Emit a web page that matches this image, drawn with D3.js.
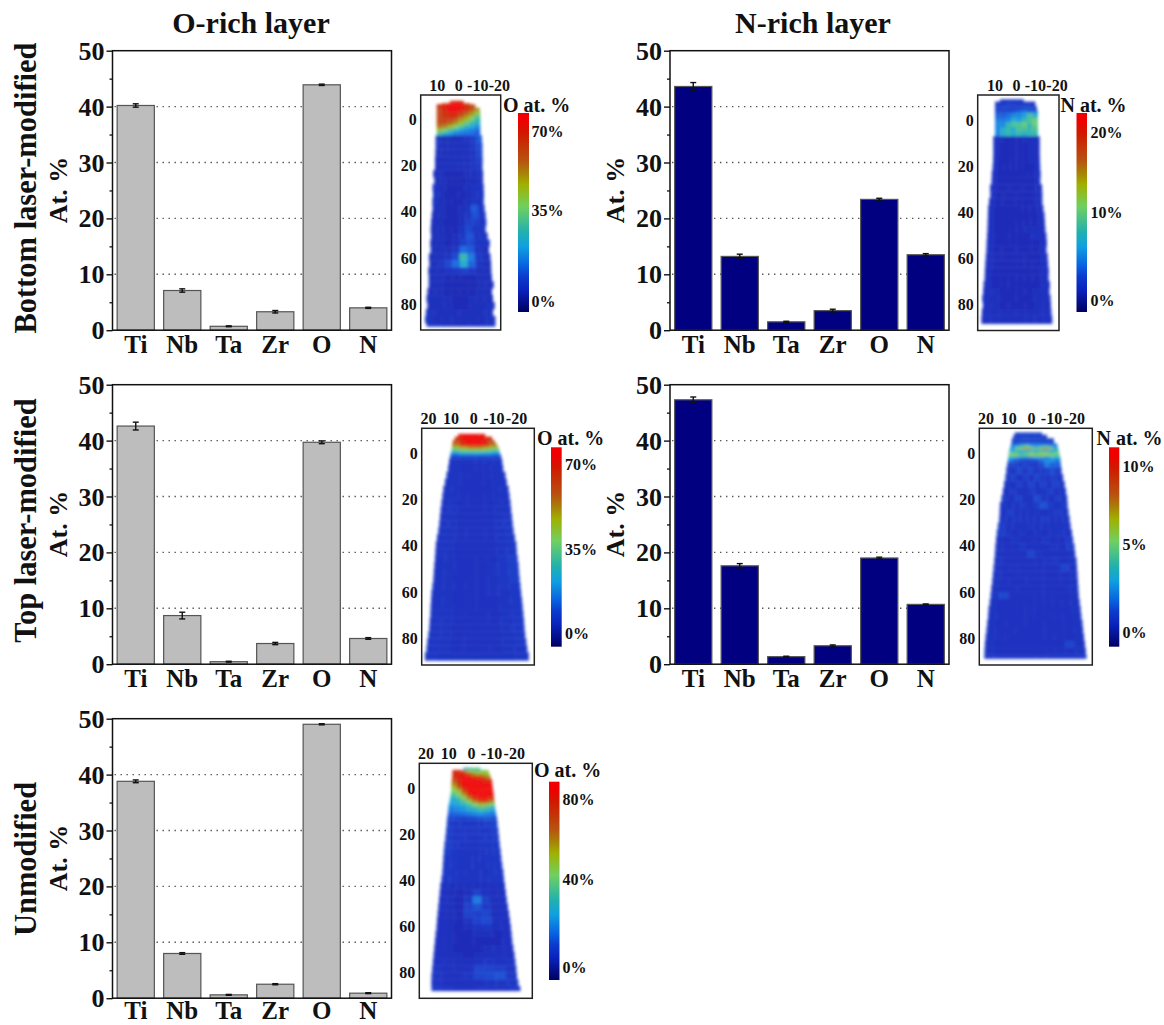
<!DOCTYPE html>
<html>
<head>
<meta charset="utf-8">
<script src="https://cdn.jsdelivr.net/npm/d3@7"></script>
<style>
  html, body { margin: 0; background: #fff; }
  svg { display: block; }
  text { font-family: "Liberation Serif", serif; font-weight: bold; fill: #111; }
</style>
</head>
<body>
<svg id="fig" width="1164" height="1025"></svg>
<script>
// ================= DATA: bars =================
const categories = ["Ti", "Nb", "Ta", "Zr", "O", "N"];
const yTicksMajor = [0, 10, 20, 30, 40, 50];
const yTicksMinor = [5, 15, 25, 35, 45];
const yGrid = [10, 20, 30, 40];

const oBottomVals = [40.2, 7.1, 0.7, 3.3, 43.9, 4.0];
const oBottomErr = [0.3, 0.3, 0.08, 0.22, 0.12, 0.1];
const nBottomVals = [43.6, 13.2, 1.5, 3.5, 23.4, 13.5];
const nBottomErr = [0.7, 0.4, 0.1, 0.25, 0.2, 0.2];
const oTopVals = [42.6, 8.7, 0.45, 3.7, 39.7, 4.6];
const oTopErr = [0.7, 0.6, 0.08, 0.2, 0.25, 0.15];
const nTopVals = [47.3, 17.6, 1.35, 3.3, 19.0, 10.7];
const nTopErr = [0.5, 0.4, 0.08, 0.15, 0.15, 0.08];
const oUnmodVals = [38.8, 8.0, 0.6, 2.5, 49.0, 0.9];
const oUnmodErr = [0.25, 0.15, 0.08, 0.1, 0.1, 0.08];

// ================= DATA: colour bar =================
const rampStops = [0, 0.11, 0.18, 0.23, 0.33, 0.40, 0.53, 0.64, 0.70, 0.765, 0.90, 0.96, 1];
const rampColors = ["#000060", "#0a22bc", "#0c3ccc", "#0860e0", "#10a0e0", "#20b0b0", "#70d060", "#a0b000", "#a88008", "#b85010", "#d01800", "#f00000", "#f00000"];

// ================= DATA: reconstructions (depth nm, x edges nm, at.% cells) =================
const m1Depth = [-8,-7,-6.5,-5,-3.5,-2,-0.5,1,2.5,4,5.5,7,10,13,16,19,22,25,28,31,34,37,40,43,46,49,52,55,58,61,64,67,70,73,76,79,82,85,88,89.5];
const m1Left = [3.9,7.7,10,10,10,10,10,10,10,10,10,10.5,10.5,10.6,10.8,10.8,11.6,11.1,11.9,11.7,12,11.9,12.3,12.6,12.8,12.6,13,12.8,13.6,13.4,13.9,13.7,13.7,14.3,14.7,14.3,15,15.4,14.7];
const m1Right = [-2.3,-5.4,-7.7,-9.7,-10,-10,-10,-10,-10,-10,-10,-10.8,-11,-11,-11.1,-11,-11.3,-11.3,-11.6,-11.7,-11.6,-12,-12.5,-12.8,-12.5,-13.4,-14.4,-14,-14.7,-15,-15.1,-15.4,-16.2,-15.4,-15.9,-16.7,-15.9,-17,-17];
const m1Vals = [
  [66,70,70,66],[62,70,74,75,72,58],
  [68,72,75,75,75,72,66,60],[62,70,74,75,74,70,62,52],[62,68,72,72,66,60,52,42],[62,66,68,66,58,50,44,32],
  [62,64,62,58,50,45,35,27],[60,60,56,50,42,34,28,24],[54,52,46,38,32,26,22,18],[42,36,30,26,20,18,16,14],[30,24,20,16,15,14,14,12],
  [5,4,4,4,4,5,7,12],[5,4,4,4,4,4,6,10],[4,4,4,4,4,4,5,9],[4,4,4,4,4,4,5,8],[4,4,4,4,4,4,5,6],
  [4,4,3.5,3.5,3.5,4,4,5],[4,4,3.5,3.5,3.5,4,4,5],[5,4,3.5,3.5,3.5,4,5,5],[5,4,3.5,3.5,3.5,4,5,5],[5,4,3.5,3.5,3.5,4,6,5],
  [4,4,3.5,3.5,4,5,12,6],[4,4,3.5,3.5,4,6,11,6],[4,4,3.5,3.5,4,8,8,5],[4,4,3.5,3.5,5,10,6,5],[4,4,3.5,4,6,11,6,5],
  [4,4,3.5,4,8,10,5,5],[4,4,4,6,14,12,5,4],[4,4,5,10,28,16,6,4],[4,6,10,14,24,13,5,4],[4,4,5,6,8,6,4,4],
  [4,4,3.5,3.5,3.5,3.5,4,4],[4,4,3.5,3.5,3.5,3.5,4,4],[4,4,3.5,3.5,3.5,3.5,4,4],[4,4,4,3.5,3.5,4,4,4],[4,4,4,3.5,3.5,4,4,5],
  [5,4,4,4,4,4,4,5],[5,4,4,4,4,4,4,5],[5,5,4,4,4,4,5,5]
];

const m2Depth = [-9,-8,-6,-4,-3,-1,1,3,5,7,10,13,16,19,22,25,28,31,34,37,40,43,46,49,52,55,58,61,64,67,70,73,76,79,82,85,88.5];
const m2Left = [7.4,9.7,9.7,9.7,9.7,9.7,9.7,9.7,9.7,10.5,10.5,10.5,10.6,10.8,11.2,11.3,12,11.9,12.5,12.9,13,13.1,13.2,13.4,13.6,13.7,14,14.2,14.4,14.5,15,15.2,15.6,15.3,15.8,16];
const m2Right = [-3.4,-8.8,-9.5,-10,-10,-10,-10,-10,-10,-10.8,-10.8,-10.8,-10.9,-11,-11.2,-11.1,-11.9,-12,-12,-12.5,-13,-13.2,-13.4,-13.9,-14.1,-13.9,-14.5,-14.7,-15,-14.9,-15.5,-15.3,-15.8,-16,-16.2,-16.6];
const m2Vals = [
  [1.6,1.8,1.8,1.6],[1.8,2,2.2,2,2,1.8],[2.2,2.4,2.4,2.4,2.6,2.8,2.8,2.4],[2.8,2.8,3,3,4,5,4,4],
  [3.5,3.5,4,5,5,6,9,7],[4.5,4.5,5,7,6,8,9,10],[5,5,8,9,9,10,8,10],[5,7,8,7,9,9,8,9],[5,7,8,7,8,7,8,8],
  [1.2,1.1,1,1,1,1.1,1.1,1.2],[1.2,1,1,1,1,1,1.1,1.2],[1.2,1,1,1,1,1,1.1,1.2],[1.2,1,1,1,1,1,1.1,1.2],[1.2,1,1,1,1,1,1,1.2],
  [1.2,1,1,1,1,1,1,1.2],[1.2,1,1,1,1,1,1,1.2],[1.2,1,1,1,1,1,1,1.2],[1.2,1,1,1,1,1,1,1.2],[1.2,1,1,1,1,1,1,1.2],
  [1.2,1,1,1,1,1,1,1.2],[1.2,1,1,1,1,1,1,1.2],[1.2,1,1,1,1,1,1,1.2],[1.2,1,1,1,1,1.1,1.1,1.2],[1.2,1,1,1,1,1,1.3,1.2],
  [1.2,1,1,1,1,1,1,1.2],[1.2,1,1,1,1,1,1,1.2],[1.2,1,1,1,1,1,1,1.2],[1.2,1,1,1,1,1,1,1.2],[1.2,1,1,1,1,1,1,1.2],
  [1.2,1,1,1,1,1,1,1.2],[1.2,1,1,1,1,1,1,1.2],[1.2,1.1,1,1,1,1,1.1,1.2],[1.2,1.1,1,1,1,1,1.1,1.2],[1.2,1.1,1,1,1,1,1.1,1.2],
  [1.3,1.1,1.1,1.1,1.1,1.1,1.1,1.3],[1.3,1.2,1.1,1.1,1.1,1.1,1.2,1.3]
];

const m3Depth = [-8.4,-7.2,-5.8,-4.3,-3,-2,-1,0,1,2.5,5,8,11,14,17,20,23,26,29,32,35,38,41,44,47,50,53,56,59,62,65,68,71,74,77,80,83,86,89.5];
const m3Left = [6.6,8.1,9.1,9.3,9.5,9.6,9.9,10,10.3,10.7,11.1,11.8,12.5,13.2,13.6,14,14.4,14.7,15,15.4,16,16.5,16.7,16.9,17.2,17.4,17.6,18,18.4,18.6,18.8,18.9,19.2,19.4,19.8,20.3,20.6,21.3];
const m3Right = [-5.1,-8.1,-9.3,-10.3,-11,-11.3,-11.5,-11.8,-12.2,-12.6,-13,-14,-14.6,-15.4,-15.8,-16.2,-16.5,-16.9,-17.2,-17.6,-18.2,-18.8,-19,-19.4,-19.8,-20,-20.3,-20.6,-20.9,-21.3,-21.6,-21.9,-22.2,-22.4,-22.7,-23.2,-23.6,-24.3];
const m3Vals = [
  [72,74,74,72],[70,75,75,75,70],[60,72,75,75,72,60],[55,70,72,72,70,55],[45,50,55,55,50,45],[35,40,42,42,40,35],
  [25,30,30,30,28,25],[14,18,18,18,18,14],[8,8,8,8,8,8],[5,4.5,4.5,4.5,4.5,5],
  [5,4.5,4,4,4,4,4.5,5],[5,4.5,4,4,4,4,4.5,5],[5,4.5,4,4,4,4,4.5,5],[5,4.5,4,4,4,4,4.5,5],[5,4.5,4,4,4,4,4.5,5],
  [5,4.5,4,4,4,4,4.5,5],[5,4.5,4,4,4,4,4.5,5],[5,4.5,4,4,4,4,4.5,6],[5,4.5,4,4,4,4,5,6],[5,4.5,4,4,4,4,5,6],
  [5,4.5,4,4,4,4,5,6],[5,4.5,4,4,4,4,5,6],[5,4.5,4,4,4,4,5,6],[5,4.5,4,4,4,4,5.5,7],[5,4.5,4,4,4,4.5,5.5,7],
  [5,4.5,4,4,4,4.5,5.5,7],[5,4.5,4,4,4,4.5,5.5,7],[5,4.5,4,4,4,4.5,5.5,6],[5,4.5,4,4,4,4.5,5,6],[5,4.5,4,4,4,4,5,6],
  [5,4.5,4,4,4,4,5,6],[5,4.5,4,4,4,4,5,6],[5,4.5,4,4,4,4,5,6],[5,4.5,4,4,4,4,4.5,6],[5,4.5,4,4,4,4,4.5,6],
  [5,4.5,4,4,4,4,4.5,6],[5,4.5,4,4,4,4,4.5,5],[6,5,4.5,4.5,4.5,4.5,5,6]
];

const m4Depth = [-9,-8,-6.5,-4.3,-3.5,-2.5,-1.5,-0.5,0.5,1.5,2.5,4,6,9,12,15,18,21,24,27,30,33,36,39,42,45,48,51,54,57,60,63,66,69,72,75,78,81,84,87,88.7];
const m4Left = [7.1,7.8,8.5,8.8,9,9.3,9.6,9.8,10,10,10.2,10.5,10.9,11.3,11.9,12.4,13,13.7,13.8,14,14.6,15.1,15.4,15.7,15.9,16.2,16.5,16.8,17.1,17.5,17.8,18.2,18.7,18.9,19.3,19.6,20,20.3,20.5,20.6];
const m4Right = [-4.7,-6.9,-9.9,-11.3,-11.6,-11.8,-12.1,-12.3,-12.5,-12.8,-12.8,-13,-13.3,-14,-14.7,-15.3,-15.8,-16,-16.4,-16.9,-17.3,-17.9,-18.4,-19,-19.3,-19.9,-20.1,-20.3,-20.5,-20.7,-20.9,-21.3,-21.7,-22,-22.5,-22.8,-23.2,-23.6,-24,-24.3];
const m4Vals = [
  [0.8,0.9,1,0.9,0.8],[0.9,1,1.1,1,1,0.9],[1,1.1,1.2,1.2,1.2,1.2,1.1,1],[1.5,1.6,2,2,2,2,1.8,1.6,1.5,1.4],
  [2.2,3,4,5,3,2.5,3,4,3,2.5],[3,5,6,7,6,5,6,7,6,3.5],[3,3.5,3,3,3,3,3.5,3,3,3.5],[5,4.5,3.8,4.5,5.5,4.5,5.5,5.5,4.5,5],
  [5,5.5,4.5,4.5,5.5,5.5,6,5,5.5,4.5],[3,2.5,2.2,2,2.2,2.5,2.5,2,3,3],[2,1.5,1.2,1,1.2,1.2,1.8,2.5,2.5,2],[1,1.2,0.8,1,0.8,0.8,1.2,2.2,1.6,1.6],
  [0.8,0.7,1.2,0.7,1.1,0.7,0.8,1,1.3,0.8],[0.8,1,0.6,0.9,0.6,1.1,0.8,0.7,0.9,0.7],[0.7,0.6,0.9,0.6,1,0.6,0.9,0.6,1,0.8],[0.6,0.8,0.6,0.6,0.8,0.6,0.7,0.9,0.6,0.7],
  [0.8,0.6,1,0.6,0.6,1.3,0.7,0.6,0.9,0.7],[0.7,0.6,0.6,0.8,0.6,0.8,1.4,0.8,0.6,0.8],[0.6,0.9,0.6,0.55,0.55,0.7,0.55,0.7,0.8,0.7],[0.7,0.55,0.7,0.55,0.6,0.55,0.8,0.55,0.55,0.7],
  [0.9,0.55,0.55,0.55,0.7,0.55,0.55,0.6,0.55,0.7],[0.9,0.7,0.5,0.55,0.5,0.6,0.5,0.55,0.7,0.6],[0.6,0.5,0.55,0.5,0.5,0.5,0.7,0.5,0.5,0.8],[0.6,0.5,0.5,0.7,0.5,0.5,0.5,0.6,0.5,0.9],
  [0.6,0.5,0.5,0.5,1.1,0.55,0.5,0.5,0.5,0.6],[0.6,0.5,0.5,0.5,0.5,0.5,0.55,0.7,0.5,0.6],[0.55,0.5,0.45,0.5,0.5,0.45,0.5,0.5,1,0.6],[0.55,0.5,0.45,0.45,0.45,0.5,0.45,0.45,0.5,0.55],
  [0.55,0.5,0.45,0.45,0.45,0.45,0.45,0.45,0.5,0.55],[0.55,0.5,0.45,0.45,0.45,0.45,0.45,0.45,0.5,0.55],[0.7,1.2,0.45,0.45,0.45,0.45,0.45,0.45,0.5,0.55],[0.55,0.5,0.45,0.45,0.45,0.45,0.45,0.45,0.5,0.55],
  [0.55,0.45,0.45,0.45,0.45,0.45,0.45,0.45,0.5,0.55],[0.55,0.45,0.45,0.45,0.45,0.45,0.45,0.45,0.5,0.55],[0.55,0.45,0.45,0.45,0.45,0.45,0.45,0.45,0.5,0.55],[0.55,0.45,0.45,0.45,0.45,0.45,0.45,0.45,0.45,0.55],
  [0.55,0.45,0.45,0.45,0.45,0.45,0.45,0.45,0.45,0.55],[0.55,0.45,0.45,0.45,0.45,0.45,0.45,0.45,1.1,0.55],[0.6,0.45,0.45,0.45,0.45,0.45,0.45,0.45,0.5,0.6],[0.8,0.7,0.7,0.7,0.7,0.7,0.7,0.7,0.7,0.8]
];

const m5Depth = [-9,-8,-7,-5.5,-4,-2.5,-1,0.5,2,3.5,5,6.5,8,10,12,14,17,20,23,26,29,32,35,38,41,44,47,50,53,56,59,62,65,68,71,74,77,80,83,86,88];
const m5Left = [3.4,8.2,8.2,8.3,8.5,8.6,8.7,8.8,9,9.2,9.5,9.8,10,10.2,10.5,10.7,11,11.3,11.7,12,12.2,12.4,12.6,13,13.5,13.8,14.1,14.4,14.7,15,15.2,15.6,15.9,16.2,16.5,16.8,17.1,17.4,17.5,17.4];
const m5Right = [-4,-7.6,-8,-8.5,-9.1,-9.2,-9.4,-9.6,-9.8,-10,-10.2,-10.4,-10.6,-10.9,-11.3,-11.5,-11.9,-12.2,-12.5,-12.9,-13.2,-13.6,-14.1,-14.4,-14.8,-15.2,-15.6,-16.1,-16.6,-17,-17.4,-17.7,-18,-18.5,-19,-19.4,-19.8,-20.1,-20.7,-21.6];
const m5Vals = [
  [28,34,40,38],[78,75,65,50,40,38,40,45],[80,80,78,70,60,55,55,50],[75,82,85,85,80,75,72,62],[68,80,85,88,88,85,80,78],
  [60,75,85,88,88,88,85,85],[50,65,80,88,88,88,88,88],[42,52,72,85,88,88,88,88],[35,42,58,78,88,88,88,85],[28,35,45,62,78,85,85,78],
  [25,28,35,45,60,70,72,60],[22,24,28,34,42,50,48,40],[18,20,22,26,30,34,32,26],[14,15,16,18,20,22,20,18],[11,10,9,10,11,12,13,12],
  [8,7,7,7,7,7,8,9],[8,7,6.5,6.5,6.5,7,7,8],[8,7,6.5,6,6,6.5,7,8],[8,7,6,6,6,6.5,7,7],[8,7,6,6,6,6.5,7,7],
  [7,7,6,6,6,6,6.5,7],[7,6.5,6,6,6,6,6.5,7],[7,6.5,6,6,6,6,6.5,7],[7,6.5,6,6,6,6,6.5,7],[5,4,4,4,4,4,4.5,5],
  [5,4,3.5,4,9,5,4,5],[5,4,3.5,7,18,8,4,5],[5,4,3.5,9,12,7,4,5],[5,4,3.5,9,8,10,4,5],[5,4,3.5,6,9,11,4.5,5],
  [5,4,3.5,4,6,7,4,5],[5,4,3.5,3.5,4,4,3.5,5],[5,4,3.5,3.5,3.5,3.5,3.5,5],[5,4,3.5,3.5,3.5,4,4,5],[5,4.5,4,3.5,4,5,4.5,5],
  [5,4.5,4,4,5,6,5,6],[6,4.5,4.5,5,10,9,8,6],[6,4.5,4.5,6,10,11,12,7],[6,5,4.5,4.5,5,6,6,7],[7,6,5,5,6,6,6,7]
];

const mapDepthTicks = [0, 20, 40, 60, 80];

// ================= SCALES / HELPERS =================
const svg = d3.select("#fig");
const defs = svg.append("defs");

const ramp = d3.scaleLinear().domain(rampStops).range(rampColors);

const grad = defs.append("linearGradient")
  .attr("id", "jet").attr("x1", 0).attr("y1", 1).attr("x2", 0).attr("y2", 0);
grad.selectAll("stop").data(rampStops).enter().append("stop")
  .attr("offset", d => d)
  .attr("stop-color", (d, i) => rampColors[i]);

defs.append("filter").attr("id", "soft")
  .attr("x", "-10%").attr("y", "-10%").attr("width", "120%").attr("height", "120%")
  .append("feGaussianBlur").attr("stdDeviation", 1.6);

function label(txt, x, y, size, rotate) {
  const t = svg.append("text").text(txt).attr("font-size", size).attr("text-anchor", "middle");
  if (rotate) t.attr("transform", `translate(${x},${y}) rotate(-90)`);
  else t.attr("x", x).attr("y", y);
  return t;
}

// ================= BAR PANELS =================
function barPanel(left, top, vals, errs, fill, labelY, catPad) {
  const width = 279, height = 279.5;
  const g = svg.append("g").attr("transform", `translate(${left},${top})`);
  const x = d3.scaleBand().domain(categories).range([0, width]).paddingInner(0.2).paddingOuter(0.1);
  const y = d3.scaleLinear().domain([0, 50]).range([height, 0]);

  // dotted grid sits under the bars
  g.selectAll(".grid").data(yGrid).enter().append("line")
    .attr("x1", 2).attr("x2", width - 3)
    .attr("y1", d => y(d)).attr("y2", d => y(d))
    .attr("stroke", "#555").attr("stroke-width", 1.4).attr("stroke-dasharray", "1.4 4.6");

  g.selectAll(".bar").data(vals).enter().append("rect")
    .attr("x", (d, i) => x(categories[i]))
    .attr("y", d => y(d))
    .attr("width", x.bandwidth())
    .attr("height", d => height - y(d))
    .attr("fill", fill).attr("stroke", "#555").attr("stroke-width", 1.2);

  const cx = i => x(categories[i]) + x.bandwidth() / 2;
  vals.forEach((v, i) => {
    const hi = y(v + errs[i]), lo = y(v - errs[i]);
    g.append("line").attr("x1", cx(i)).attr("x2", cx(i)).attr("y1", hi).attr("y2", lo)
      .attr("stroke", "#111").attr("stroke-width", 1.4);
    [hi, lo].forEach(yy => g.append("line")
      .attr("x1", cx(i) - 3).attr("x2", cx(i) + 3).attr("y1", yy).attr("y2", yy)
      .attr("stroke", "#111").attr("stroke-width", 1.4));
  });

  g.append("rect").attr("width", width).attr("height", height)
    .attr("fill", "none").attr("stroke", "#111").attr("stroke-width", 1.5);

  const major = d3.axisLeft(y).tickValues(yTicksMajor).tickSize(6).tickPadding(2).tickFormat(d3.format("d"));
  const ga = g.append("g").call(major);
  ga.select(".domain").remove();
  ga.selectAll("line").attr("stroke", "#111").attr("stroke-width", 1.4);
  ga.selectAll("text").attr("font-size", 26).attr("dy", "0.33em").style("font-family", '"Liberation Serif", serif');

  const minor = d3.axisLeft(y).tickValues(yTicksMinor).tickSize(3).tickFormat("");
  const gm = g.append("g").call(minor);
  gm.select(".domain").remove();
  gm.selectAll("line").attr("stroke", "#111").attr("stroke-width", 1.3);

  const xa = g.append("g").attr("transform", `translate(0,${height})`)
    .call(d3.axisBottom(x).tickSize(0).tickPadding(catPad));
  xa.select(".domain").remove();
  xa.selectAll("text").attr("font-size", 25).style("font-family", '"Liberation Serif", serif');

  label("At. %", left - 46, labelY, 26, true);
}

// ================= RECONSTRUCTION MAPS =================
function reconMap(opt) {
  const x = d3.scaleLinear().domain([0, -10]).range([opt.xZero, opt.xZero + opt.xPer10]);
  const y = d3.scaleLinear().domain([0, 80]).range([opt.yZero, opt.yEighty]);

  // colour bar value -> pixel (labels are not evenly spaced in the figure)
  const barY = d3.scaleLinear().domain(opt.barVals).range(opt.barYs);
  const barT = d3.scaleLinear().domain([opt.barBottom, opt.barTop]).range([0, 1]);
  const color = v => ramp(barT(barY(v)));

  const cells = svg.append("g").attr("filter", "url(#soft)").attr("opacity", 0.93);
  opt.vals.forEach((row, r) => {
    const xL = x(opt.left[r]), xR = x(opt.right[r]);
    const w = (xR - xL) / row.length;
    cells.selectAll(null).data(row).enter().append("rect")
      .attr("x", (d, c) => xL + c * w)
      .attr("y", y(opt.depth[r]))
      .attr("width", w + 0.4)
      .attr("height", y(opt.depth[r + 1]) - y(opt.depth[r]) + 0.4)
      .attr("fill", d => color(d));
  });

  svg.append("rect")
    .attr("x", opt.box[0]).attr("y", opt.box[1])
    .attr("width", opt.box[2] - opt.box[0]).attr("height", opt.box[3] - opt.box[1])
    .attr("fill", "none").attr("stroke", "#222").attr("stroke-width", 1.5);

  const top = svg.append("g").attr("transform", `translate(0,${opt.box[1]})`)
    .call(d3.axisTop(x).tickValues(opt.xTicks).tickSize(0).tickPadding(4).tickFormat(d => String(d)));
  top.select(".domain").remove();
  top.selectAll("text")
    .attr("font-size", 16).style("font-family", '"Liberation Serif", serif')
    .attr("text-anchor", d => d < 0 ? "end" : "middle")
    .attr("x", d => d < 0 ? 8 : 0);

  const side = svg.append("g").attr("transform", `translate(${opt.box[0]},0)`)
    .call(d3.axisLeft(y).tickValues(mapDepthTicks).tickSize(0).tickPadding(4).tickFormat(d => String(d)));
  side.select(".domain").remove();
  side.selectAll("text").attr("font-size", 16).style("font-family", '"Liberation Serif", serif');

  svg.append("rect")
    .attr("x", opt.barX).attr("y", opt.barTop)
    .attr("width", opt.barW).attr("height", opt.barBottom - opt.barTop)
    .attr("fill", "url(#jet)");

  svg.append("text").text(opt.title)
    .attr("x", opt.titleX).attr("y", opt.titleY).attr("font-size", 20);

  svg.selectAll(null).data(opt.barVals).enter().append("text")
    .text(d => d + "%")
    .attr("x", opt.barLabelX)
    .attr("y", d => barY(d))
    .attr("dy", "0.34em")
    .attr("font-size", 16);
}

// ================= DRAW =================
label("O-rich layer", 251, 33, 30);
label("N-rich layer", 813, 33, 30);
label("Bottom laser-modified", 36, 188, 30.5, true);
label("Top laser-modified", 36, 520.5, 30.5, true);
label("Unmodified", 36, 859, 30.5, true);

barPanel(112.5, 50.7, oBottomVals, oBottomErr, "#bdbdbd", 190, 5);
barPanel(670, 50.7, nBottomVals, nBottomErr, "#000080", 190, 5);
barPanel(112.5, 384.7, oTopVals, oTopErr, "#bdbdbd", 524, 5);
barPanel(670, 384.7, nTopVals, nTopErr, "#000080", 524, 5);
barPanel(112.5, 718.7, oUnmodVals, oUnmodErr, "#bdbdbd", 858, 3);

reconMap({
  box: [420.7, 95, 500.7, 330], xZero: 458.3, xPer10: 21.6, yZero: 119.3, yEighty: 304.3,
  xTicks: [10, 0, -10, -20], title: "O at. %", titleX: 503, titleY: 112,
  barX: 518, barW: 11, barTop: 113, barBottom: 312,
  barVals: [0, 35, 70], barYs: [301.7, 211, 131.7], barLabelX: 531.5,
  depth: m1Depth, left: m1Left, right: m1Right, vals: m1Vals
});
reconMap({
  box: [977.7, 95, 1059, 330.5], xZero: 1016, xPer10: 21.6, yZero: 120, yEighty: 304,
  xTicks: [10, 0, -10, -20], title: "N at. %", titleX: 1060.5, titleY: 112,
  barX: 1076.5, barW: 10.5, barTop: 113, barBottom: 312,
  barVals: [0, 10, 20], barYs: [300.7, 213, 133], barLabelX: 1090.5,
  depth: m2Depth, left: m2Left, right: m2Right, vals: m2Vals
});
reconMap({
  box: [421.7, 428.3, 534.3, 665], xZero: 473.3, xPer10: 22.7, yZero: 453.3, yEighty: 638.3,
  xTicks: [20, 10, 0, -10, -20], title: "O at. %", titleX: 537, titleY: 445,
  barX: 551, barW: 10.7, barTop: 447.3, barBottom: 646.7,
  barVals: [0, 35, 70], barYs: [634, 549.5, 465], barLabelX: 565,
  depth: m3Depth, left: m3Left, right: m3Right, vals: m3Vals
});
reconMap({
  box: [979.3, 428.3, 1092.3, 665], xZero: 1031, xPer10: 22.7, yZero: 453.3, yEighty: 638.3,
  xTicks: [20, 10, 0, -10, -20], title: "N at. %", titleX: 1096.5, titleY: 445,
  barX: 1109, barW: 10.3, barTop: 447.3, barBottom: 646.7,
  barVals: [0, 5, 10], barYs: [632.5, 545, 467], barLabelX: 1122.5,
  depth: m4Depth, left: m4Left, right: m4Right, vals: m4Vals
});
reconMap({
  box: [419.3, 763.3, 532.3, 998.3], xZero: 471, xPer10: 22.7, yZero: 788.3, yEighty: 972.3,
  xTicks: [20, 10, 0, -10, -20], title: "O at. %", titleX: 534, titleY: 777,
  barX: 549, barW: 10.5, barTop: 781.7, barBottom: 980,
  barVals: [0, 40, 80], barYs: [968, 880, 799.3], barLabelX: 562.5,
  depth: m5Depth, left: m5Left, right: m5Right, vals: m5Vals
});
</script>
</body>
</html>
